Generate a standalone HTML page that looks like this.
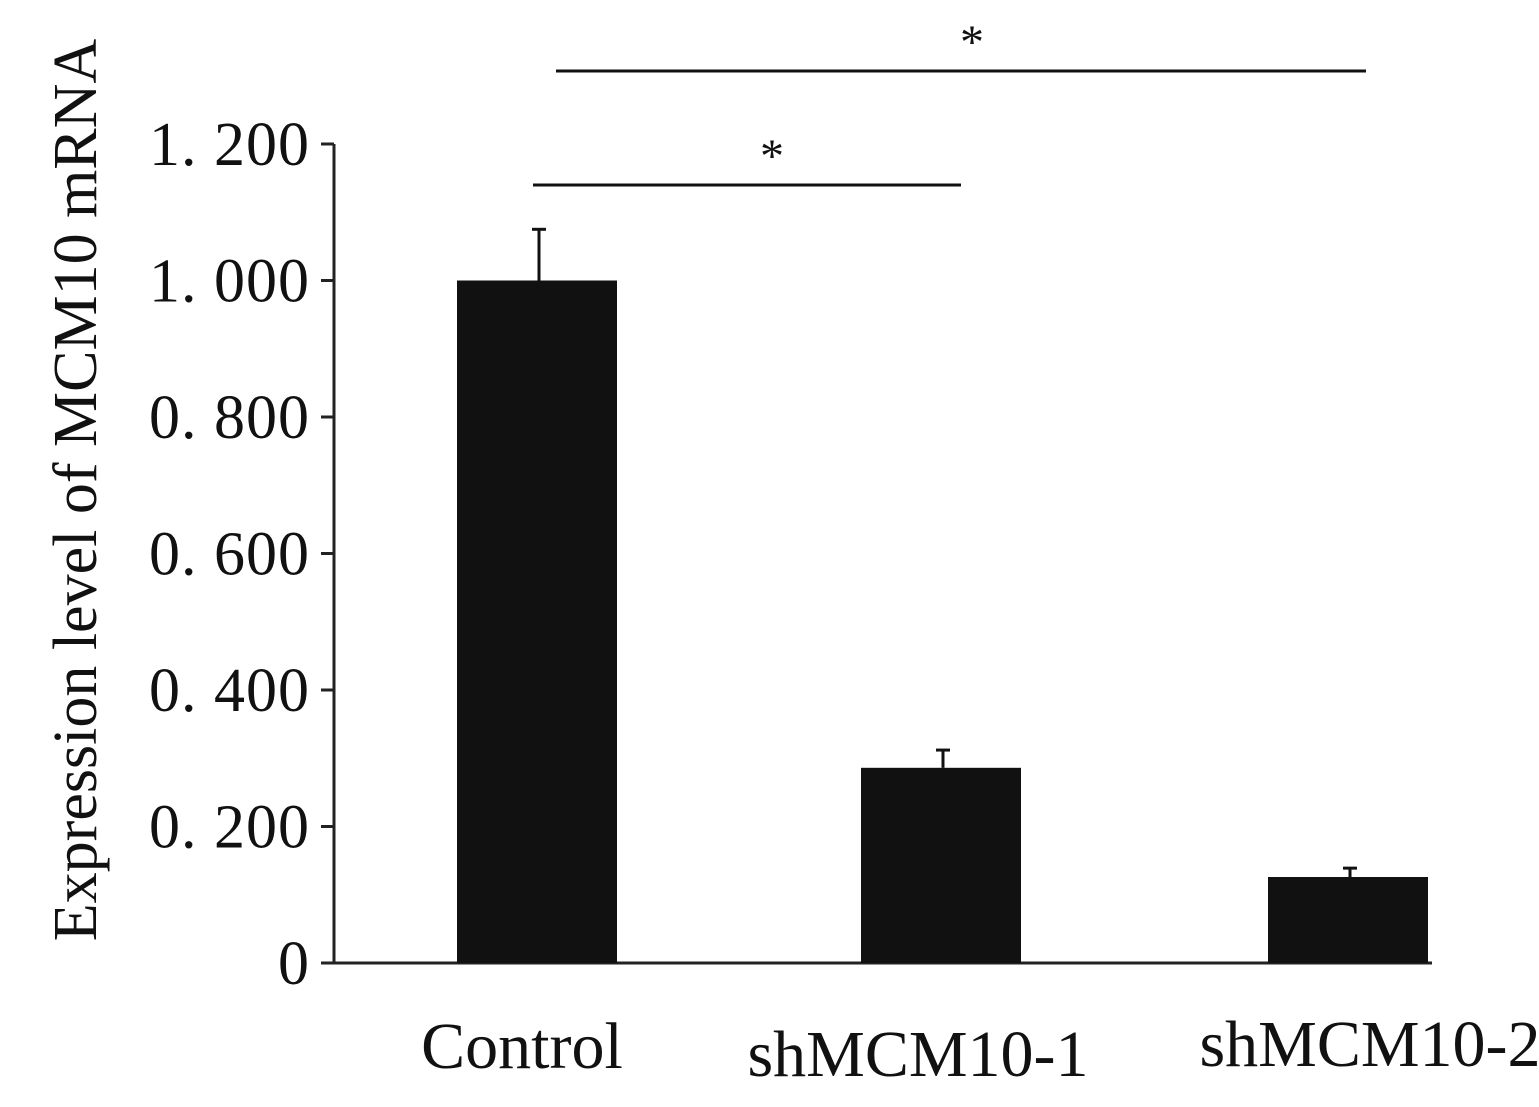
<!DOCTYPE html>
<html><head><meta charset="utf-8"><style>
html,body{margin:0;padding:0;background:#fff;}
svg{display:block;}
text{font-family:"Liberation Serif",serif;fill:#111;}
</style></head><body>
<svg id="chart" width="1539" height="1107" viewBox="0 0 1539 1107">
<g id="g"></g>
</svg>
<script>
const categories=["Control","shMCM10-1","shMCM10-2"];
const values=[1.0,0.286,0.126];
const errors=[0.075,0.026,0.013];
const tickValues=[0,0.2,0.4,0.6,0.8,1.0,1.2];
const tickLabels=["0","0. 200","0. 400","0. 600","0. 800","1. 000","1. 200"];
const NS="http://www.w3.org/2000/svg";
const g=document.getElementById('g');
const y0=963,pxPerUnit=682.5;
function y(v){return y0-v*pxPerUnit;}
const barCenters=[537,941,1348];
const barW=160;
function el(t,a){const e=document.createElementNS(NS,t);for(const k in a)e.setAttribute(k,a[k]);g.appendChild(e);return e;}
let ax=el('line',{x1:334,y1:y(1.2),x2:334,y2:y0,stroke:'#222','stroke-width':3});


let xa=el('line',{x1:332,y1:y0,x2:1432,y2:y0,stroke:'#222','stroke-width':3});


tickValues.forEach((v,i)=>{
 let t=el('line',{x1:321,y1:y(v),x2:334,y2:y(v),stroke:'#222','stroke-width':3});
 
 
 let tx=el('text',{x:310,y:y(v)+21,'text-anchor':'end','font-size':62,'letter-spacing':1});
 tx.textContent=tickLabels[i];
 
 
});
const labelY=[1068,1076,1066];
categories.forEach((c,i)=>{
 const cx=barCenters[i];
 let b=el('rect',{x:cx-barW/2,y:y(values[i]),width:barW,height:y0-y(values[i]),fill:'#111'});
 
 
 const ex=cx-barW/2+82;
 let e1=el('line',{x1:ex,y1:y(values[i]),x2:ex,y2:y(values[i]+errors[i]),stroke:'#111','stroke-width':3});
 
 
 let e2=el('line',{x1:ex-7,y1:y(values[i]+errors[i]),x2:ex+7,y2:y(values[i]+errors[i]),stroke:'#111','stroke-width':3});
 
 
 let t=el('text',{x:[522,918,1370][i],y:labelY[i],'text-anchor':'middle','font-size':66});
 t.textContent=c;
 
 
});
[[533,961,185,772,172],[556,1366,71,972,58]].forEach(s=>{
 let l=el('line',{x1:s[0],y1:s[2],x2:s[1],y2:s[2],stroke:'#111','stroke-width':3});
 
 
 let t=el('text',{x:s[3],y:s[4],'text-anchor':'middle','font-size':48});
 t.textContent='*';
 
 
});
let yt=el('text',{x:0,y:0,'text-anchor':'middle','font-size':62,transform:'translate(96,490) rotate(-90)'});
yt.textContent='Expression level of MCM10 mRNA';


</script>
</body></html>
